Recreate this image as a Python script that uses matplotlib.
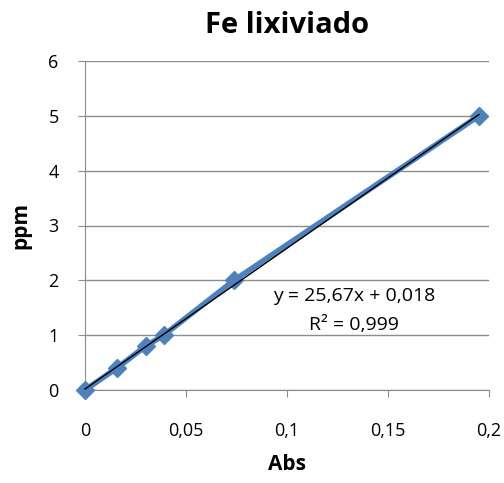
import matplotlib.pyplot as plt
import numpy as np

abs_vals = [0.0, 0.0158, 0.030, 0.039, 0.0738, 0.195]
ppm_vals = [0.0, 0.4, 0.8, 1.0, 2.0, 5.0]
slope = 25.67
intercept = 0.018

plt.rcParams['font.family'] = ['Open Sans', 'DejaVu Sans']

fig = plt.figure(figsize=(5.04, 4.83), dpi=100)
ax = fig.add_axes([85 / 504, 1 - 390 / 483, (489 - 85) / 504, (390 - 61) / 483])

ax.plot(abs_vals, ppm_vals, color='#4F81BD', lw=4, marker='D', ms=9, zorder=3, clip_on=False)
xf = np.array([0, abs_vals[-1]])
ax.plot(xf, slope * xf + intercept, color='black', lw=1, zorder=4, clip_on=False)

ax.set_xlim(0, 0.2)
ax.set_ylim(0, 6)
ax.set_xticks([0, 0.05, 0.1, 0.15, 0.2])
ax.set_xticklabels(['0', '0,05', '0,1', '0,15', '0,2'])
ax.set_yticks(range(7))
ax.yaxis.grid(True, color='#8c8c8c', lw=1)
ax.set_axisbelow(True)
for s in ['top', 'right']:
    ax.spines[s].set_visible(False)
for s in ['left', 'bottom']:
    ax.spines[s].set_color('#8c8c8c')
ax.tick_params(colors='#8c8c8c', labelcolor='black', labelsize=13, length=5)
ax.tick_params(axis='x', pad=18)
ax.tick_params(axis='y', pad=14)

ax.text(0.133, 1.72, 'y = 25,67x + 0,018', ha='center', va='center', fontsize=14)
ax.text(0.133, 1.18, 'R² = 0,999', ha='center', va='center', fontsize=14)

ax.set_title('Fe lixiviado', fontsize=21, fontweight='bold', pad=20)
ax.set_xlabel('Abs', fontsize=15, fontweight='bold', labelpad=10)
ax.set_ylabel('ppm', fontsize=15, fontweight='bold', labelpad=12)

fig.savefig('out.png', dpi=100)
